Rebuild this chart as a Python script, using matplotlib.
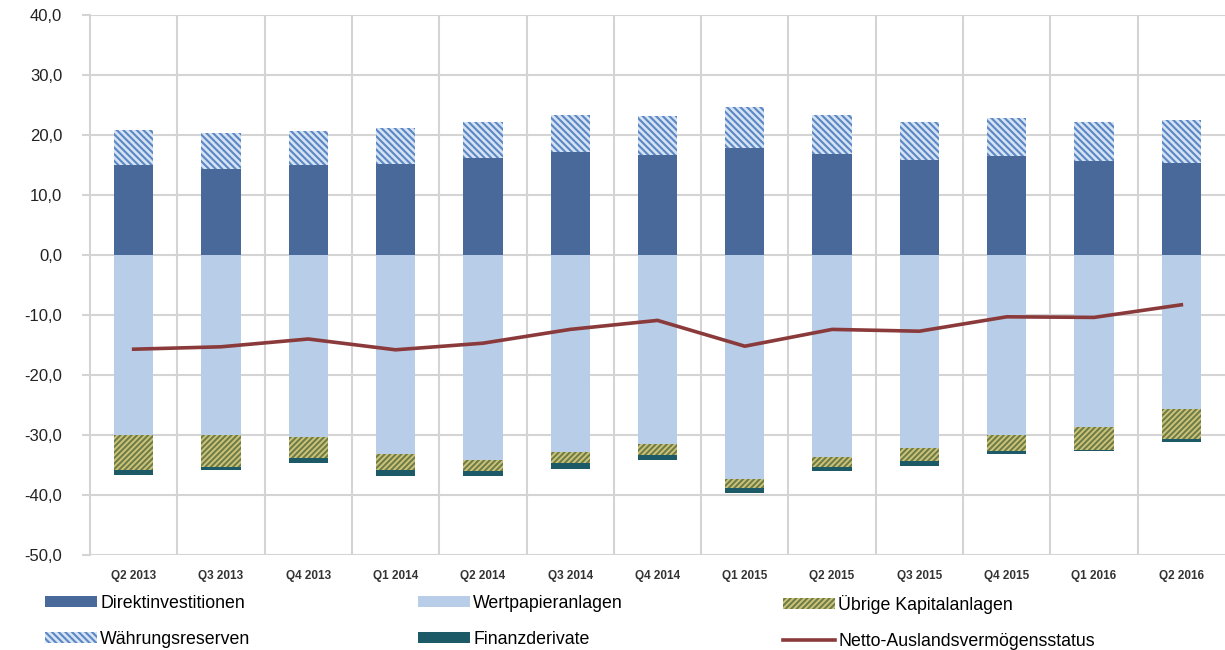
import matplotlib
matplotlib.use("Agg")
import matplotlib.pyplot as plt
import numpy as np
from matplotlib.patches import Patch
from matplotlib.lines import Line2D
from matplotlib.ticker import FixedLocator, FuncFormatter

quarters = ["Q2 2013", "Q3 2013", "Q4 2013", "Q1 2014", "Q2 2014", "Q3 2014", "Q4 2014",
            "Q1 2015", "Q2 2015", "Q3 2015", "Q4 2015", "Q1 2016", "Q2 2016"]

# positive side (stacked upwards)
direkt = [15.0, 14.3, 15.0, 15.1, 16.1, 17.2, 16.6, 17.8, 16.9, 15.8, 16.5, 15.6, 15.4]
waehrung = [5.9, 6.1, 5.7, 6.0, 6.0, 6.1, 6.5, 6.8, 6.5, 6.4, 6.3, 6.6, 7.1]
# negative side (stacked downwards)
wertpapier = [-30.0, -30.0, -30.4, -33.1, -34.2, -32.9, -31.5, -37.4, -33.7, -32.1, -30.0, -28.6, -25.7]
uebrige = [-5.9, -5.3, -3.5, -2.8, -1.8, -1.8, -1.8, -1.4, -1.6, -2.3, -2.6, -3.9, -4.9]
finanz = [-0.7, -0.6, -0.7, -1.0, -0.8, -0.9, -0.8, -0.9, -0.7, -0.7, -0.6, -0.2, -0.5]
netto = [-15.7, -15.3, -14.0, -15.8, -14.7, -12.4, -10.9, -15.2, -12.4, -12.7, -10.3, -10.4, -8.3]

c_direkt = "#48699a"
c_wert = "#b8cde8"
c_waehr_face = "#d6e3f3"
c_waehr_hatch = "#5b87c4"
c_ueb_face = "#cfc57a"
c_ueb_hatch = "#6f7d48"
c_finanz = "#1b5a66"
c_netto = "#8a3a3a"
c_grid = "#d4d4d4"

plt.rcParams["font.family"] = ["Liberation Sans", "DejaVu Sans"]
plt.rcParams["hatch.linewidth"] = 1.5

fig = plt.figure(figsize=(12.25, 6.5), dpi=100)
ax = fig.add_axes([90 / 1225, 95 / 650, 1 - 90 / 1225, 540 / 650])

x = np.arange(len(quarters))
w = 0.45

ax.bar(x, direkt, w, color=c_direkt, zorder=3)
ax.bar(x, waehrung, w, bottom=direkt, facecolor=c_waehr_face, edgecolor=c_waehr_hatch,
       hatch="\\\\\\\\\\", linewidth=0, zorder=3)
ax.bar(x, wertpapier, w, color=c_wert, zorder=3)
b2 = np.array(wertpapier)
ax.bar(x, uebrige, w, bottom=b2, facecolor=c_ueb_face, edgecolor=c_ueb_hatch,
       hatch="//////", linewidth=0, zorder=3)
b3 = b2 + np.array(uebrige)
ax.bar(x, finanz, w, bottom=b3, color=c_finanz, zorder=3)
ax.plot(x, netto, color=c_netto, lw=2.6, zorder=4)

ax.set_xlim(-0.5, len(quarters) - 0.5)
ax.set_ylim(-50, 40)
ax.set_yticks(np.arange(-50, 41, 10))
ax.yaxis.set_major_formatter(FuncFormatter(lambda v, p: f"{v:.1f}".replace(".", ",")))
ax.set_xticks(x)
ax.set_xticklabels(quarters)
ax.xaxis.set_minor_locator(FixedLocator(np.arange(0.5, len(quarters) - 0.5, 1)))

ax.grid(axis="y", color=c_grid, lw=1.5, zorder=0)
ax.grid(axis="x", which="minor", color=c_grid, lw=1.5, zorder=0)
for s in ["top", "right", "bottom"]:
    ax.spines[s].set_visible(False)
ax.spines["left"].set_color(c_grid)
ax.spines["left"].set_linewidth(1.5)

ax.tick_params(axis="y", length=6, width=1.5, color=c_grid, pad=14, labelsize=12, labelcolor="#222222")
ax.tick_params(axis="x", which="major", length=0, pad=11, labelsize=8.5, labelcolor="#333333")
ax.tick_params(axis="x", which="minor", length=0)
for lab in ax.get_xticklabels():
    lab.set_family(["Liberation Sans Narrow", "Liberation Sans", "DejaVu Sans"])
    lab.set_fontweight("bold")

h_direkt = Patch(facecolor=c_direkt)
h_waehr = Patch(facecolor=c_waehr_face, edgecolor=c_waehr_hatch, hatch="\\\\\\\\\\", linewidth=0)
h_wert = Patch(facecolor=c_wert)
h_finanz = Patch(facecolor=c_finanz)
h_ueb = Patch(facecolor=c_ueb_face, edgecolor=c_ueb_hatch, hatch="//////", linewidth=0)
h_netto = Line2D([], [], color=c_netto, lw=2.6)

groups = [
    (45, [h_direkt, h_waehr], ["Direktinvestitionen", "Währungsreserven"]),
    (418, [h_wert, h_finanz], ["Wertpapieranlagen", "Finanzderivate"]),
    (783, [h_ueb, h_netto], ["Übrige Kapitalanlagen", "Netto-Auslandsvermögensstatus"]),
]
for px, hs, ls in groups:
    fig.legend(hs, ls, loc="upper left", bbox_to_anchor=(px / 1225, 1 - 595 / 650),
               frameon=False, fontsize=12.8, handlelength=2.9, handleheight=0.6,
               handletextpad=0.2, labelspacing=1.05, borderpad=0, borderaxespad=0)

fig.savefig("out.png", dpi=100)
